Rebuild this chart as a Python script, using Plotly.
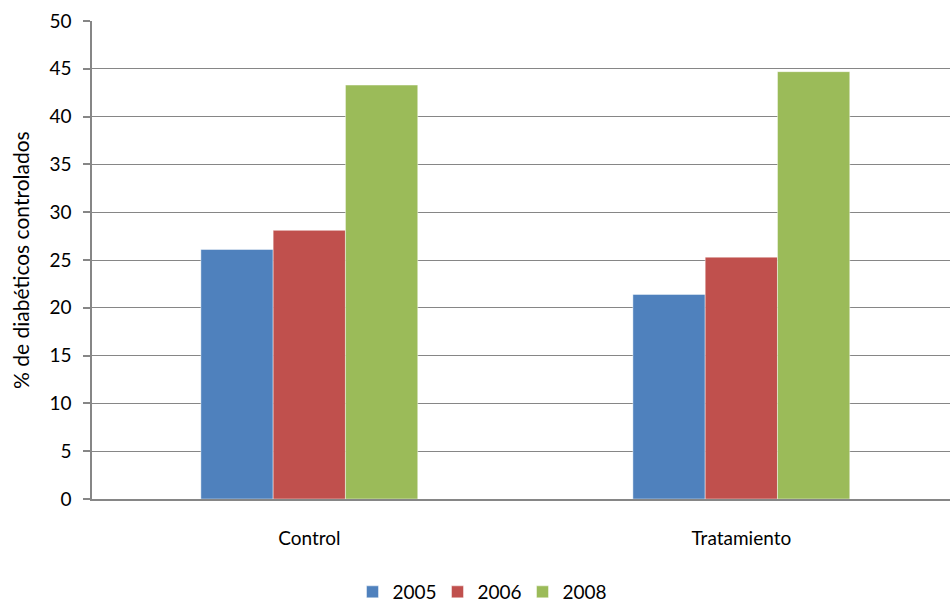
import plotly.graph_objects as go

# Categories and yearly series (% of controlled diabetic patients)
categories = ["Control", "Tratamiento"]
years = ["2005", "2006", "2008"]
values_2005 = [26.1, 21.4]
values_2006 = [28.1, 25.3]
values_2008 = [43.3, 44.7]
colors = ["#4F81BD", "#C0504D", "#9BBB59"]
y_ticks = [0, 5, 10, 15, 20, 25, 30, 35, 40, 45, 50]

FONT = "Lato"
W, H = 950, 603
ML, MR, MT, MB = 92, 0, 21, 104

fig = go.Figure()
for name, vals, col in zip(years, [values_2005, values_2006, values_2008], colors):
    fig.add_trace(go.Bar(
        x=categories, y=vals, name=name,
        marker=dict(color=col, line=dict(color="rgba(255,255,255,0.45)", width=1)),
    ))

fig.update_layout(
    width=W, height=H,
    margin=dict(l=ML, r=MR, t=MT, b=MB),
    paper_bgcolor="white", plot_bgcolor="white",
    barmode="group", bargap=0.498, bargroupgap=0,
    font=dict(family=FONT, size=19, color="#000000"),
    showlegend=True,
    legend=dict(
        orientation="h", xref="container", yref="container",
        x=480 / W, xanchor="center", y=1 - 592 / H, yanchor="middle",
        font=dict(family=FONT, size=19, color="#000000"),
        itemwidth=30, traceorder="normal",
        entrywidth=40, entrywidthmode="pixels",
    ),
    xaxis=dict(
        type="category", range=[-0.503, 1.483],
        showline=True, linecolor="#868686", linewidth=1.5,
        ticks="", showgrid=False, zeroline=False,
        ticklabelstandoff=21,
        tickfont=dict(family=FONT, size=19, color="#000000"),
    ),
    yaxis=dict(
        range=[0, 50], tickvals=y_ticks,
        showline=True, linecolor="#868686", linewidth=1.5,
        ticks="outside", ticklen=7, tickcolor="#868686", tickwidth=1.5,
        showgrid=True, gridcolor="#868686", gridwidth=1.2,
        zeroline=False, ticklabelstandoff=8,
        tickfont=dict(family=FONT, size=19, color="#000000"),
    ),
    annotations=[dict(
        text="% de diabéticos controlados",
        xref="paper", yref="paper",
        x=(20 - ML) / (W - ML - MR), y=0.5,
        xanchor="center", yanchor="middle",
        textangle=-90, showarrow=False,
        font=dict(family=FONT, size=21, color="#000000"),
    )],
)

fig.write_html("out.html")
